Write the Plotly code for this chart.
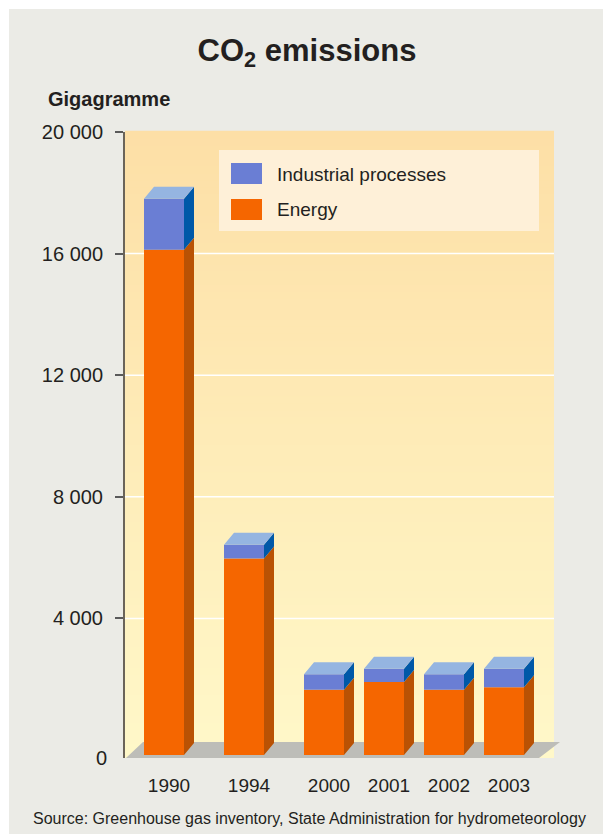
import plotly.graph_objects as go

# ---------------- data ----------------
years = ["1990", "1994", "2000", "2001", "2002", "2003"]
energy = [16620, 6460, 2150, 2400, 2150, 2230]
industrial = [1680, 460, 510, 440, 510, 610]
y_ticks = [4000, 8000, 12000, 16000, 20000]
y_tick_text = ["4 000", "8 000", "12 000", "16 000", "20 000"]
series_names = ["Industrial processes", "Energy"]

# ---------------- layout constants ----------------
W, H = 603, 834
PL, PR, PT, PB = 125, 561, 132, 758        # plot-area pixel box
SLOT = [0, 4, 8, 11, 14, 17]               # category slots (1 unit = 20 px)
PX_X = 20.0
XMIN = -(164 - PL) / PX_X
XMAX = XMIN + (PR - PL) / PX_X
YMAX = 20000
WALL_ZERO_PX = 740
PX_Y = (WALL_ZERO_PX - PT) / YMAX
YMIN = -(PB - WALL_ZERO_PX) / PX_Y
FLOOR_BACK = -(742 - WALL_ZERO_PX) / PX_Y
FRONT_BASE = -(755 - WALL_ZERO_PX) / PX_Y   # front-plane baseline
DX = 10 / PX_X                               # 3D depth
DY = 12 / PX_Y
BAR_W = 40 / PX_X
WALL_RIGHT = 554

C_EN, C_EN_SIDE = "#F56600", "#B95204"
C_IN, C_IN_SIDE, C_TOP = "#6A7ED4", "#0058A8", "#95B5E1"
FONT = "Liberation Sans, Arial, sans-serif"
TXT = "#231F20"


def px(x):
    return (x - PL) / (PR - PL)


def py(y):
    return (PB - y) / (PB - PT)


def lerp(c1, c2, t):
    a = [int(c1[i:i + 2], 16) for i in (1, 3, 5)]
    b = [int(c2[i:i + 2], 16) for i in (1, 3, 5)]
    return "rgb(%d,%d,%d)" % tuple(round(a[k] + (b[k] - a[k]) * t) for k in range(3))


shapes = []
# outer grey panel
shapes.append(dict(type="rect", xref="paper", yref="paper", x0=px(9), x1=px(W + 5),
                   y0=py(9), y1=py(H + 5), fillcolor="#EBEBE6", line_width=0, layer="below"))
# gradient back wall
N = 90
for i in range(N):
    t = (i + 0.5) / N
    shapes.append(dict(type="rect", xref="paper", yref="paper", x0=0, x1=px(WALL_RIGHT),
                       y0=i / N, y1=(i + 1) / N + 0.002,
                       fillcolor=lerp("#FFF8C9", "#FDDFA6", t), line_width=0, layer="below"))
# gridlines
for v in y_ticks[:-1]:
    shapes.append(dict(type="line", xref="paper", yref="y", x0=0, x1=px(WALL_RIGHT),
                       y0=v, y1=v, line=dict(color="white", width=1.5), layer="below"))
# floor
fx = [XMIN + 0.05, XMIN + 0.9, XMAX - 0.05, XMAX - 1.1]
fy = [YMIN, FLOOR_BACK, FLOOR_BACK, YMIN]
path = "M %f,%f L %f,%f L %f,%f L %f,%f Z" % (fx[0], fy[0], fx[1], fy[1], fx[2], fy[2], fx[3], fy[3])
shapes.append(dict(type="path", xref="x", yref="y", path=path, fillcolor="#BDBDB8",
                   line_width=0, layer="below"))
# legend box
shapes.append(dict(type="rect", xref="paper", yref="paper", x0=px(219), x1=px(539),
                   y0=py(231), y1=py(150), fillcolor="#FEF0D8", line_width=0, layer="above"))
for (y0, y1), col in zip([(163, 184), (199, 220)], [C_IN, C_EN]):
    shapes.append(dict(type="rect", xref="paper", yref="paper", x0=px(231), x1=px(262),
                       y0=py(y1), y1=py(y0), fillcolor=col, line_width=0, layer="above"))

fig = go.Figure()

# front faces (bars)
fig.add_trace(go.Bar(x=SLOT, y=energy, base=[FRONT_BASE] * len(energy), width=BAR_W,
                     marker=dict(color=C_EN, line_width=0), name=series_names[1]))
fig.add_trace(go.Bar(x=SLOT, y=industrial, base=[FRONT_BASE + e for e in energy], width=BAR_W,
                     marker=dict(color=C_IN, line_width=0), name=series_names[0]))

# side and top faces
sx_en, sy_en, sx_in, sy_in, tx, ty = [], [], [], [], [], []
for s, e, ind in zip(SLOT, energy, industrial):
    xr = s + BAR_W / 2
    xl = s - BAR_W / 2
    b = FRONT_BASE
    sx_en += [xr, xr, xr + DX, xr + DX, xr, None]
    sy_en += [b, b + e, b + e + DY, b + DY, b, None]
    sx_in += [xr, xr, xr + DX, xr + DX, xr, None]
    sy_in += [b + e, b + e + ind, b + e + ind + DY, b + e + DY, b + e, None]
    top = b + e + ind
    tx += [xl, xr, xr + DX, xl + DX, xl, None]
    ty += [top, top, top + DY, top + DY, top, None]
for xs, ys, col in [(sx_en, sy_en, C_EN_SIDE), (sx_in, sy_in, C_IN_SIDE), (tx, ty, C_TOP)]:
    fig.add_trace(go.Scatter(x=xs, y=ys, mode="lines", fill="toself", fillcolor=col,
                             line=dict(width=0, color=col), hoverinfo="skip"))

annotations = [
    dict(text="Gigagramme", xref="paper", yref="paper", x=px(46), y=py(99), xanchor="left",
         yanchor="middle", showarrow=False, font=dict(family=FONT, size=20, color=TXT, weight="bold")),
    dict(text="0", xref="paper", yref="y", x=px(109), y=YMIN, xanchor="right", yanchor="middle",
         showarrow=False, font=dict(family=FONT, size=20, color=TXT)),
    dict(text="Source: Greenhouse gas inventory, State Administration for hydrometeorology",
         xref="paper", yref="paper", x=px(309), y=py(818), xanchor="center", yanchor="middle",
         showarrow=False, font=dict(family=FONT, size=16, color=TXT)),
    dict(text=series_names[0], xref="paper", yref="paper", x=px(275), y=py(174), xanchor="left",
         yanchor="middle", showarrow=False, font=dict(family=FONT, size=19, color=TXT)),
    dict(text=series_names[1], xref="paper", yref="paper", x=px(275), y=py(210), xanchor="left",
         yanchor="middle", showarrow=False, font=dict(family=FONT, size=19, color=TXT)),
]

fig.update_layout(
    width=W, height=H,
    margin=dict(l=PL, r=W - PR, t=PT, b=H - PB, pad=0),
    paper_bgcolor="white", plot_bgcolor="rgba(0,0,0,0)",
    barmode="overlay", showlegend=False, hovermode=False,
    title=dict(text="CO<sub>2</sub> emissions", x=307 / W, xanchor="center", xref="container",
               y=1 - 50 / H, yanchor="middle", yref="container",
               font=dict(family=FONT, size=31, color=TXT, weight="bold")),
    shapes=shapes, annotations=annotations,
    xaxis=dict(range=[XMIN, XMAX], tickvals=[s + DX / 2 for s in SLOT], ticktext=years,
               showgrid=False, zeroline=False, showline=False, ticks="",
               tickfont=dict(family=FONT, size=19, color=TXT), ticklabelstandoff=14),
    yaxis=dict(range=[YMIN, YMAX], tickvals=y_ticks, ticktext=y_tick_text,
               showgrid=False, zeroline=False, showline=True, linecolor="#6B6459", linewidth=2,
               ticks="outside", ticklen=8, tickwidth=1.5, tickcolor="#5A5A5A",
               tickfont=dict(family=FONT, size=20, color=TXT), ticklabelstandoff=8),
)

fig.write_html("out.html")
